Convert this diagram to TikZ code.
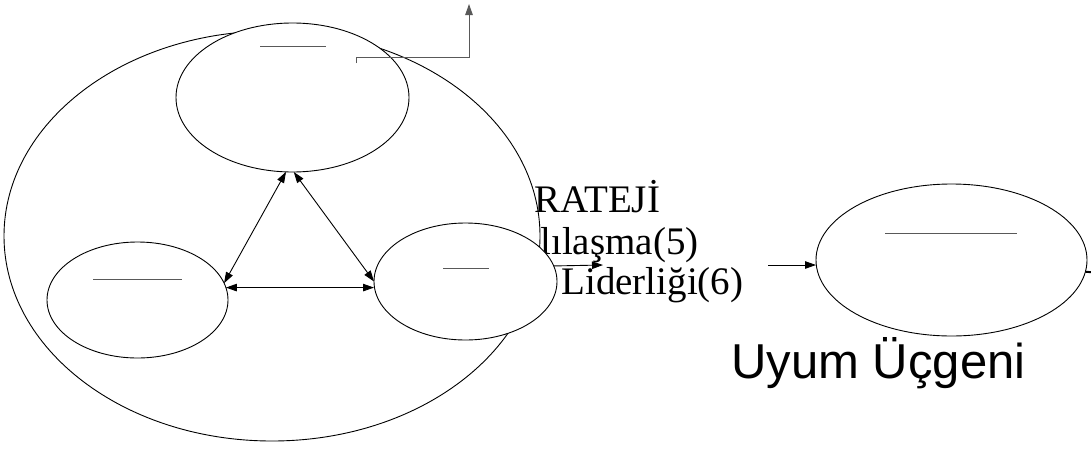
\documentclass[tikz,border=0pt]{standalone}
\usepackage{fontspec}
\setmainfont{Liberation Serif}
\newfontfamily\arialfont{Liberation Sans}
\usetikzlibrary{shapes.geometric,arrows.meta}

\begin{document}
\begin{tikzpicture}[x=1pt,y=-1pt,
  line width=0.9pt,
  oval/.style={draw=black,ellipse,inner sep=0pt,outer sep=0pt},
  whiteoval/.style={oval,fill=white},
  bar/.style={draw=black!65,line width=1pt},
  twoway/.style={{Triangle[length=11pt,width=7.5pt]}-{Triangle[length=11pt,width=7.5pt]}},
  oneway/.style={-{Triangle[length=11pt,width=7.5pt]}},
  serifbig/.style={font=\fontsize{39}{39}\selectfont,anchor=base west,inner sep=0pt},
  sansbig/.style={font=\arialfont\fontsize{49}{49}\selectfont,anchor=base west,inner sep=0pt}]

\useasboundingbox (0,0) rectangle (1091,450);

% side labels of the strategy block
\node[serifbig] (lblA) at (534,212) {RATEJİ};
\node[serifbig] (lblB) at (540,254) {lılaşma(5)};
\node[serifbig] (lblC) at (561,294) {Liderliği(6)};
\node[sansbig]  (lblD) at (731,378) {Uyum Üçgeni};

% enclosing oval
\node[oval,minimum width=536pt,minimum height=410pt] (outer) at (272,236) {};

% the three inner ovals
\node[whiteoval,minimum width=233pt,minimum height=149pt] (top) at (292.5,97.5) {};
\node[whiteoval,minimum width=181pt,minimum height=116pt] (left) at (137.5,300) {};
\node[whiteoval,minimum width=183pt,minimum height=117pt] (mid) at (465.5,281.5) {};

% result oval
\node[whiteoval,minimum width=271pt,minimum height=152pt] (res) at (951.5,260) {};

% short bars inside the ovals
\draw[bar] (260,46) -- (326,46);
\draw[bar] (93,279) -- (182,279);
\draw[bar] (443,268) -- (489,268);
\draw[bar] (885,233) -- (1017,233);

% two-way links of the triangle
\draw[twoway] (top.-95) -- (left.11);
\draw[twoway] (top.-89.5) -- (mid.180);
\draw[twoway] (left.8.4) -- (left.8.4 -| mid.west);

% outgoing arrows
\coordinate (midOut) at (603,265);
\draw[oneway] (mid.10.6) -- (midOut);
\coordinate (resIn) at (768,265);
\draw[oneway] (resIn) -- (resIn -| res.west);
\coordinate (resOut) at (1100,273);
\draw[line width=2pt] (res.-5.5) -- (resOut);

% stepped connector leaving upwards
\coordinate (stepStart) at (356,63);
\coordinate (stepEnd) at (469,4);
\draw[draw=black!65,line width=1pt,-{Triangle[length=11pt,width=7.5pt]}]
  (stepStart) -- ++(0,-6) -| (stepEnd);

\end{tikzpicture}
\end{document}
